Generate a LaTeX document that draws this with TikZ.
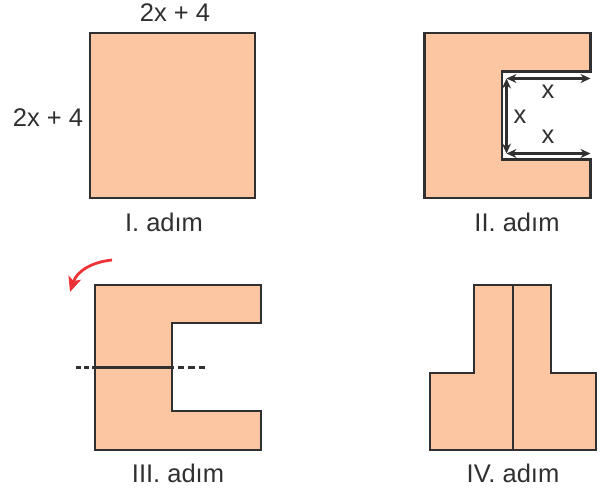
\documentclass[tikz,border=0pt]{standalone}
\usepackage{fontspec}
\setmainfont{Liberation Sans}
\usetikzlibrary{arrows.meta}
\definecolor{fillpeach}{HTML}{FCC6A2}
\definecolor{edge}{HTML}{303030}
\definecolor{redarrow}{HTML}{EE3338}
\tikzset{
  x=1pt,y=-1pt,
  shapepart/.style={draw=edge,fill=fillpeach,line width=2.8pt,line join=miter},
  foldline/.style={draw=edge,line width=2.4pt},
  lbl/.style={font=\fontsize{25.5}{25.5}\selectfont,text=edge,inner sep=0pt},
  measure/.style={draw=edge,line width=2.2pt,{Stealth[length=10pt,width=9pt]}-{Stealth[length=10pt,width=9pt]}},
  foldarrow/.style={draw=redarrow,line width=2.8pt,-{Stealth[length=15pt,width=13pt,inset=3.5pt]}}
}
\begin{document}
\begin{tikzpicture}
\useasboundingbox (0,0) rectangle (605,493);
% I
\path[shapepart] (90,33) rectangle (255,198);
\node[lbl] (t1) at (175,13) {2x + 4};
\node[lbl] (t2) at (48,118) {2x + 4};
\node[lbl] (c1) at (164,222.5) {I. adım};
% II
\path[shapepart] (424.5,33) -- (590.5,33) -- (590.5,71.5) -- (502,71.5) -- (502,159.5) -- (590.5,159.5) -- (590.5,198) -- (424.5,198) -- cycle;
\coordinate (a) at (506.5,78.5);
\coordinate (b) at (590.5,78.5);
\coordinate (c) at (506.5,153.5);
\coordinate (d) at (590.5,153.5);
\draw[measure] (a) -- (b);
\draw[measure] (c) -- (d);
\draw[measure] (a) -- (c);
\node[lbl] (x1) at (548,92) {x};
\node[lbl] (x2) at (520,117) {x};
\node[lbl] (x3) at (548,137) {x};
\node[lbl] (c2) at (517,222.5) {II. adım};
% III
\path[shapepart] (95,285) -- (261,285) -- (261,323) -- (172,323) -- (172,411) -- (261,411) -- (261,450) -- (95,450) -- cycle;
\coordinate (f1) at (76,367.5);
\coordinate (f2) at (205,367.5);
\draw[foldline,dash pattern=on 5pt off 3pt on 5pt off 3pt] (f1) -- (95,367.5);
\draw[foldline] (95,367.5) -- (172,367.5);
\draw[foldline,dash pattern=on 6.5pt off 4pt] (f2) -- (172,367.5);
\coordinate (r1) at (112,260);
\coordinate (r2) at (70,292);
\draw[foldarrow] (r1) .. controls (92,262) and (77,271) .. (r2);
\node[lbl] (c3) at (178,473) {III. adım};
% IV
\path[shapepart] (474,285) -- (551,285) -- (551,373) -- (596,373) -- (596,450) -- (430,450) -- (430,373) -- (474,373) -- cycle;
\coordinate (m1) at (513,285);
\coordinate (m2) at (513,450);
\draw[foldline] (m1) -- (m2);
\node[lbl] (c4) at (513,473) {IV. adım};
\end{tikzpicture}
\end{document}
